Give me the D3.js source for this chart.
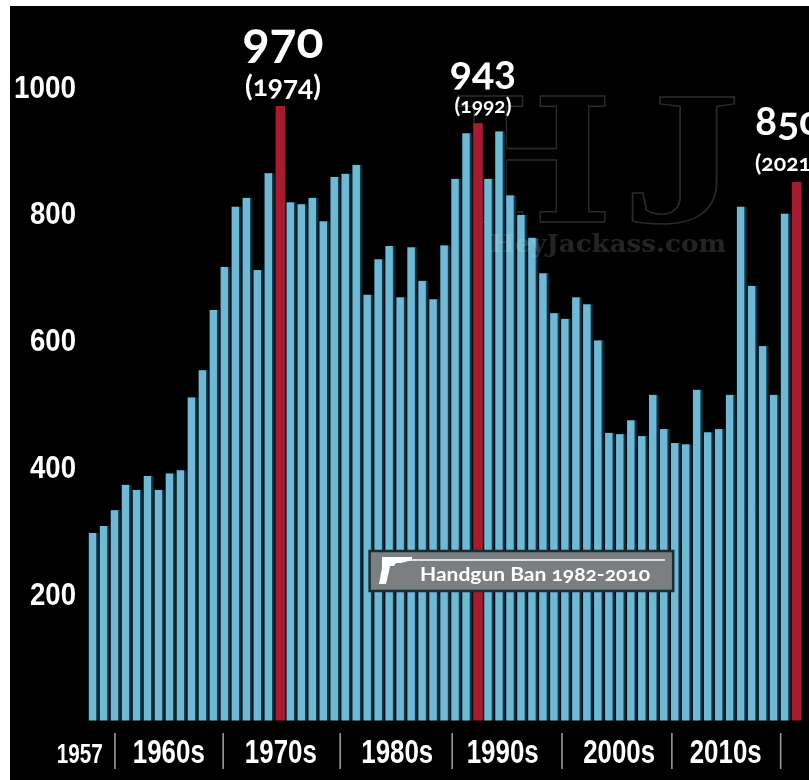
<!DOCTYPE html>
<html>
<head>
<meta charset="utf-8">
<script src="https://cdn.jsdelivr.net/npm/d3@7"></script>
<style>
  html, body { margin: 0; padding: 0; background: #fff; overflow: hidden; }
  svg { display: block; }
  .narrow { font-family: "Liberation Sans", sans-serif; font-weight: 700; fill: #fff; }
  .note { font-family: Lato, "Open Sans", sans-serif; font-weight: 700; fill: #fff; font-variant-numeric: oldstyle-nums; font-feature-settings: "onum"; }
</style>
</head>
<body>
<svg id="chart" width="809" height="780"></svg>
<script>
// homicides per year
var years = d3.range(1957, 2022);
var values = [296, 307, 332, 372, 364, 386, 364, 390, 395, 510,
  553, 648, 716, 811, 825, 711, 864, 970, 818, 815,
  825, 788, 858, 863, 877, 672, 728, 749, 668, 747,
  694, 665, 750, 855, 927, 943, 855, 930, 829, 798,
  762, 706, 643, 634, 668, 657, 600, 454, 452, 474,
  449, 514, 460, 438, 436, 522, 455, 460, 514, 811,
  686, 591, 514, 800, 850];
var peakYears = [1974, 1992, 2021];
var yTicks = [200, 400, 600, 800, 1000];
var periodLabels = ["1957", "1960s", "1970s", "1980s", "1990s", "2000s", "2010s"];
var periodCentres = [1955.8, 1963.9, 1974.1, 1984.7, 1994.3, 2004.9, 2014.6];
var periodBreaks = [1959, 1968.85, 1979.5, 1989.7, 1999.7, 2009.7, 2019.6];
var banYears = [1982, 2010];

var svg = d3.select("#chart");

var x = d3.scaleLinear().domain([1957, 2021]).range([93, 796]);
var y = d3.scaleLinear().domain([0, 1000]).range([720.5, 87]);

var defs = svg.append("defs");
defs.append("filter").attr("id", "soft")
  .append("feGaussianBlur").attr("stdDeviation", 0.35);
defs.append("filter").attr("id", "softer")
  .append("feGaussianBlur").attr("stdDeviation", 0.45);

// each bar is blue with a dark teal edge fading to black on its right
var grad = defs.append("linearGradient").attr("id", "barFill");
grad.append("stop").attr("offset", "0%").attr("stop-color", "#6fb8d4");
grad.append("stop").attr("offset", "64%").attr("stop-color", "#6fb8d4");
grad.append("stop").attr("offset", "71%").attr("stop-color", "#124659");
grad.append("stop").attr("offset", "84%").attr("stop-color", "#09293a");
grad.append("stop").attr("offset", "100%").attr("stop-color", "#000");

// black panel, the picture has a white edge top and left
svg.append("rect").attr("x", 10).attr("y", 6).attr("width", 799).attr("height", 774).attr("fill", "#000");

// watermark behind everything
var mark = svg.append("g").attr("filter", "url(#softer)")
  .attr("font-weight", 700)
  .attr("fill", "none")
  .attr("stroke", "#2c2c2c")
  .attr("stroke-width", 1.4);
mark.append("text").attr("transform", "translate(450,222)")
  .attr("font-family", "DejaVu Serif").attr("font-size", 172).text("H");
mark.append("text").attr("transform", "translate(622,222) scale(1.25,1)")
  .attr("font-family", "Liberation Serif").attr("font-size", 190).text("J");

// bars
var band = 10.98;
svg.append("g").attr("filter", "url(#soft)")
  .selectAll("rect")
  .data(years)
  .enter()
  .append("rect")
  .attr("x", function(d) { return x(d) - 4.2; })
  .attr("width", function(d) { return peakYears.indexOf(d) >= 0 ? 9.6 : band; })
  .attr("y", function(d, i) { return y(values[i]); })
  .attr("height", function(d, i) { return y(0) - y(values[i]); })
  .attr("fill", function(d) { return peakYears.indexOf(d) >= 0 ? "#a51b2e" : "url(#barFill)"; });

// gridlines + y labels
var yAxis = svg.append("g")
  .attr("transform", "translate(87,0)")
  .call(d3.axisLeft(y).tickValues(yTicks).tickSize(-713).tickPadding(11).tickFormat(d3.format("d")));
yAxis.select(".domain").remove();
yAxis.selectAll("line").attr("stroke", "#fff").attr("stroke-opacity", 0.27).attr("stroke-width", 2).attr("filter", "url(#softer)");
yAxis.selectAll("text")
  .attr("class", "narrow")
  .attr("font-size", 32)
  .attr("font-family", null)
  .attr("textLength", function(d) { return d === 1000 ? 62 : 46; })
  .attr("lengthAdjust", "spacingAndGlyphs")
  .attr("filter", "url(#softer)");

// faint site name over the bars
svg.append("text")
  .attr("x", 490).attr("y", 252)
  .attr("font-family", "DejaVu Serif")
  .attr("font-weight", 700)
  .attr("font-size", 24)
  .attr("fill", "#fff")
  .attr("fill-opacity", 0.14)
  .attr("textLength", 236)
  .attr("lengthAdjust", "spacingAndGlyphs")
  .attr("filter", "url(#softer)")
  .text("HeyJackass.com");

// decade labels along the bottom
svg.append("g").selectAll("text")
  .data(periodLabels)
  .enter()
  .append("text")
  .attr("class", "narrow")
  .attr("x", function(d, i) { return x(periodCentres[i]); })
  .attr("y", 763)
  .attr("text-anchor", "middle")
  .attr("font-size", function(d, i) { return i === 0 ? 27 : 33; })
  .attr("textLength", function(d, i) { return i === 0 ? 46 : 72; })
  .attr("lengthAdjust", "spacingAndGlyphs")
  .attr("filter", "url(#softer)")
  .text(function(d) { return d; });

svg.append("g").selectAll("line")
  .data(periodBreaks)
  .enter()
  .append("line")
  .attr("x1", x).attr("x2", x)
  .attr("y1", 733).attr("y2", 769)
  .attr("stroke", "#9a9a9a")
  .attr("stroke-width", 1.6);

// peak annotations
function peak(label, year, lx, ly, size, yy, ysize, anchor) {
  var g = svg.append("g").attr("class", "note").attr("filter", "url(#softer)").attr("text-anchor", anchor);
  g.append("text").attr("x", lx).attr("y", ly).attr("font-size", size).text(label);
  g.append("text").attr("x", lx).attr("y", yy).attr("font-size", ysize).text("(" + year + ")");
}
peak(values[years.indexOf(1974)], 1974, 283, 58, 50, 96, 28, "middle");
peak(values[years.indexOf(1992)], 1992, 483, 85, 41, 113, 21, "middle");
peak(values[years.indexOf(2021)], 2021, 755, 135, 41, 171, 23, "start");

// handgun ban box spans 1982-2010
var ban = svg.append("g");
ban.append("rect")
  .attr("x", x(banYears[0]) + 2)
  .attr("y", 551)
  .attr("width", x(banYears[1]) - x(banYears[0]) - 4)
  .attr("height", 40)
  .attr("fill", "#7b7f81")
  .attr("stroke", "#1b2a30")
  .attr("stroke-width", 2.5)
  .attr("filter", "url(#softer)");
ban.append("line")
  .attr("x1", 400).attr("x2", 665)
  .attr("y1", 560).attr("y2", 560)
  .attr("stroke", "#fff").attr("stroke-width", 1.6);
ban.append("path")
  .attr("transform", "translate(379,556)")
  .attr("d", "M3 1 H33 V4 L22 7 H17 L15 10 H11 L10 15 L7 28 H0 L3 12 Z")
  .attr("fill", "#fff")
  .attr("filter", "url(#softer)");
ban.append("text")
  .attr("class", "note")
  .attr("x", 420).attr("y", 581)
  .attr("font-size", 19)
  .attr("textLength", 230)
  .attr("lengthAdjust", "spacingAndGlyphs")
  .attr("filter", "url(#softer)")
  .text("Handgun Ban 1982-2010");
</script>
</body>
</html>
